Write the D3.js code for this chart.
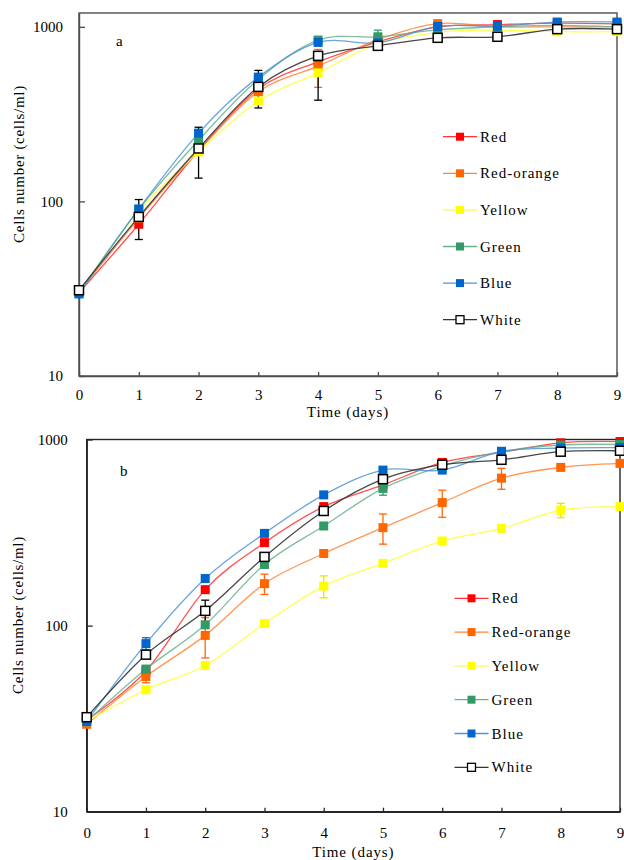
<!DOCTYPE html>
<html><head><meta charset="utf-8">
<script src="https://cdn.jsdelivr.net/npm/d3@7"></script>
<style>
body{margin:0;background:#fff}
svg{display:block}
svg text{font-family:'Liberation Serif','Times New Roman','DejaVu Serif',serif !important;fill:#000}
</style>
</head><body>
<svg id="c" width="624" height="860" font-family="Liberation Serif, serif"></svg>
<script>
// ---------- data ----------
const days = [0,1,2,3,4,5,6,7,8,9];
const seriesNames = ["Red","Red-orange","Yellow","Green","Blue","White"];
const yTickValues = [10,100,1000];
const xTitle = "Time (days)";
const yTitle = "Cells number (cells/ml)";

// panel a
const aRed       = [30, 74, 195, 440, 630, 820, 1000, 1030, 1050, 1040];
const aRedOrange = [30, 80, 195, 425, 596, 845, 1043, 1000, 1000, 1000];
const aYellow    = [30, 88, 192, 376, 545, 800, 930, 957, 938, 938];
const aGreen     = [30, 90, 224, 500, 840, 877, 960, 1000, 1020, 1000];
const aBlue      = [29.5, 90.5, 246, 515, 814, 810, 1005, 1010, 1065, 1065];
const aWhite     = [31, 81.5, 201, 453, 682, 778, 865, 877, 970, 970];
// error bars: number = symmetric, [minus, plus]
const aRedErr       = [0,0,0,0,0,0,0,0,0,0];
const aRedOrangeErr = [0,0,0,0,146,0,0,0,0,0];
const aYellowErr    = [0,0,0,0,0,0,0,0,0,0];
const aGreenErr     = [0,0,0,0,0,80,0,0,0,0];
const aBlueErr      = [0,0,0,0,0,0,0,0,0,0];
const aWhiteErr     = [0,21,65,110,[302,0],0,0,0,0,0];

// panel b
const bRed       = [31, 57, 156, 279, 436, 570, 753, 853, 960, 975];
const bRedOrange = [29.5, 53.3, 88.6, 168, 244, 336, 458, 620, 708, 744];
const bYellow    = [30.5, 45.2, 61, 102.6, 163, 216, 285, 333, 417, 436];
const bGreen     = [30.5, 58.4, 101, 213, 343, 546, 720, 860, 934, 940];
const bBlue      = [30.5, 80, 179, 313, 504, 685, 685, 864, 900, 905];
const bWhite     = [32.2, 69.8, 120, 234, 413, 612, 732, 778, 860, 870];
const bRedErr       = [0,0,0,0,0,0,0,0,0,0];
const bRedOrangeErr = [0,4,21.6,21,0,62,76,80,0,0];
const bYellowErr    = [0,0,0,0,22,0,0,0,37,0];
const bGreenErr     = [0,0,0,0,0,44,0,0,0,0];
const bBlueErr      = [0,6,0,0,0,0,0,0,0,0];
const bWhiteErr     = [0,0,17,0,0,0,0,0,0,0];

// ---------- styles ----------
const FONT = "'Liberation Serif','Times New Roman','DejaVu Serif',serif";
const markerFill = ["#ff0000","#ff6600","#ffff00","#339966","#0066cc","#ffffff"];
const lineColor  = ["#ff3333","#ff8533","#ffff33","#66b38a","#4d94db","#333333"];
const errColor   = ["#ff0000","#ff6600","#e6e600","#339966","#0066cc","#000000"];

const panels = [
  {label:"a", values:[aRed,aRedOrange,aYellow,aGreen,aBlue,aWhite],
   errs:[aRedErr,aRedOrangeErr,aYellowErr,aGreenErr,aBlueErr,aWhiteErr],
   left:79, right:617, top:13, bottom:376, ymax:1200, frame:"#4d4d4d",
   ytPad:16, xtPad:13, xTitleY:417, yTitleX:19, yTitleY:164,
   labelX:116, labelY:46, legX:460, legY0:136.7, legDy:36.6},
  {label:"b", values:[bRed,bRedOrange,bYellow,bGreen,bBlue,bWhite],
   errs:[bRedErr,bRedOrangeErr,bYellowErr,bGreenErr,bBlueErr,bWhiteErr],
   left:86.7, right:620, top:439.5, bottom:811.7, ymax:1000, frame:"#262626",
   ytPad:19, xtPad:15.5, xTitleY:857, yTitleX:18, yTitleY:615,
   labelX:120, labelY:476, legX:471.5, legY0:598.3, legDy:33.8}
];

const svg = d3.select("#c");
const MS = 9; // marker size

panels.forEach(p => {
  const x = d3.scaleLinear().domain([0,9]).range([p.left,p.right]);
  const y = d3.scaleLog().domain([10,p.ymax]).range([p.bottom,p.top]);
  const g = svg.append("g");

  g.append("rect").attr("x",p.left).attr("y",p.top)
    .attr("width",p.right-p.left).attr("height",p.bottom-p.top)
    .attr("fill","none").attr("stroke",p.frame).attr("stroke-width",1.4);

  const ya = g.append("g").attr("transform",`translate(${p.left},0)`)
    .call(d3.axisLeft(y).tickValues(yTickValues).tickFormat(d3.format("d"))
      .tickSize(-6).tickSizeOuter(0).tickPadding(p.ytPad));
  const xa = g.append("g").attr("transform",`translate(0,${p.bottom})`)
    .call(d3.axisBottom(x).tickValues(days).tickFormat(d3.format("d"))
      .tickSize(-4).tickSizeOuter(0).tickPadding(p.xtPad));
  [ya,xa].forEach(a=>{
    a.attr("font-family",FONT).attr("font-size",15);
    a.select(".domain").attr("stroke",p.frame).attr("stroke-width",1.4);
    a.selectAll(".tick line").attr("stroke",p.frame).attr("stroke-width",1.3);
    a.selectAll(".tick text").attr("font-size",15).attr("fill","#000")
      .style("font-family",FONT);
  });

  g.append("text").attr("x",(p.left+p.right)/2).attr("y",p.xTitleY)
    .attr("text-anchor","middle").attr("font-size",15).style("font-family",FONT)
    .attr("letter-spacing",0.9).text(xTitle);
  g.append("text").attr("transform",`translate(${p.yTitleX+5},${p.yTitleY}) rotate(-90)`)
    .attr("text-anchor","middle").attr("font-size",15).style("font-family",FONT)
    .attr("letter-spacing",0.7).text(yTitle);
  g.append("text").attr("x",p.labelX).attr("y",p.labelY).style("font-family",FONT)
    .attr("font-size",15).text(p.label);

  const line = d3.line().x((d,i)=>x(days[i])).y(d=>y(d))
    .curve(d3.curveCardinal.tension(0));

  p.values.forEach((vals,si)=>{
    g.append("path").attr("d",line(vals)).attr("fill","none")
      .attr("stroke",lineColor[si]).attr("stroke-width",1.3)
      .attr("stroke-opacity",si===5?0.9:0.85);
  });

  p.values.forEach((vals,si)=>{
    p.errs[si].forEach((e,i)=>{
      if(!e) return;
      const mi = Array.isArray(e)?e[0]:e, pl = Array.isArray(e)?e[1]:e;
      const cx = x(days[i]);
      const lo = y(vals[i]-mi), hi = y(vals[i]+pl);
      const eg = g.append("g").attr("stroke",errColor[si]).attr("stroke-width",1.3);
      eg.append("line").attr("x1",cx).attr("x2",cx).attr("y1",lo).attr("y2",hi);
      if(mi) eg.append("line").attr("x1",cx-4).attr("x2",cx+4).attr("y1",lo).attr("y2",lo);
      if(pl) eg.append("line").attr("x1",cx-4).attr("x2",cx+4).attr("y1",hi).attr("y2",hi);
    });
  });

  p.values.forEach((vals,si)=>{
    g.selectAll(null).data(vals).enter().append("rect")
      .attr("x",(d,i)=>x(days[i])-MS/2).attr("y",d=>y(d)-MS/2)
      .attr("width",MS).attr("height",MS)
      .attr("fill",markerFill[si])
      .attr("stroke",si===5?"#000":"none").attr("stroke-width",1.5);
  });

  seriesNames.forEach((name,si)=>{
    const ly = p.legY0 + si*p.legDy;
    g.append("line").attr("x1",p.legX-17).attr("x2",p.legX+17)
      .attr("y1",ly).attr("y2",ly).attr("stroke",lineColor[si]).attr("stroke-width",1.3);
    const ls = 8;
    g.append("rect").attr("x",p.legX-ls/2).attr("y",ly-ls/2).attr("width",ls).attr("height",ls)
      .attr("fill",markerFill[si]).attr("stroke",si===5?"#000":"none").attr("stroke-width",1.3);
    g.append("text").attr("x",p.legX+20).attr("y",ly+5).style("font-family",FONT)
      .attr("font-size",15).attr("letter-spacing",1).text(name);
  });
});
</script>
</body></html>
